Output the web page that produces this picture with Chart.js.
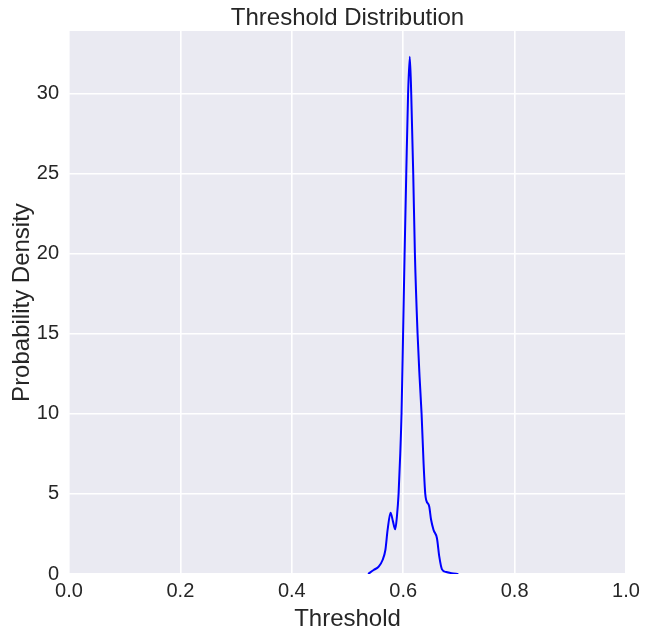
<!DOCTYPE html>
<html>
<head>
<meta charset="utf-8">
<script src="https://cdn.jsdelivr.net/npm/chart.js@4.4.1/dist/chart.umd.min.js"></script>
<style>
  html, body { margin: 0; padding: 0; background: #ffffff; }
  #wrap { width: 648px; height: 638px; }
</style>
</head>
<body>
<div id="wrap"><canvas id="kde" width="648" height="638"></canvas></div>
<script>
// --- data (threshold -> density) ---
const thresholds = [0.537, 0.547, 0.556, 0.563, 0.568, 0.572, 0.5773, 0.5815, 0.5857, 0.5887,
                    0.5917, 0.5947, 0.597, 0.5998, 0.6025, 0.6055, 0.6088, 0.6118, 0.6144, 0.618,
                    0.621, 0.6258, 0.6294, 0.633, 0.6366, 0.6396, 0.6414, 0.6468, 0.650, 0.6545,
                    0.6606, 0.6648, 0.6696, 0.6773, 0.687, 0.699];
const densities  = [0, 0.25, 0.46, 0.875, 1.5, 2.75, 3.83, 3.3, 2.79, 3.58,
                    5, 7.5, 10, 15, 20, 25, 30, 32.3, 30, 25,
                    20, 15, 12.3, 10, 6.9, 5, 4.6, 4.2, 3.4, 2.75,
                    2.23, 1.08, 0.29, 0.12, 0.05, 0];
const xTicks = [0, 0.2, 0.4, 0.6, 0.8, 1.0];
const yTicks = [0, 5, 10, 15, 20, 25, 30];
const chartTitle = 'Threshold Distribution';

const FONT = '"Liberation Sans", Arial, sans-serif';
const TEXT = '#262626';

// grey panel behind the plot area (seaborn darkgrid) + title centred on the plot
const panelBg = {
    id: 'panelBg',
    beforeDraw(chart) {
        const a = chart.chartArea;
        const c = chart.ctx;
        c.save();
        c.fillStyle = '#eaeaf2';
        c.fillRect(a.left, a.top, a.right - a.left, a.bottom - a.top);
        c.restore();
    },
    afterDraw(chart) {
        const a = chart.chartArea;
        const c = chart.ctx;
        c.save();
        c.fillStyle = TEXT;
        c.font = '24px ' + FONT;
        c.textAlign = 'center';
        c.textBaseline = 'alphabetic';
        c.fillText(chartTitle, (a.left + a.right) / 2, 25);
        c.restore();
    }
};

const points = thresholds.map((t, i) => ({ x: t, y: densities[i] }));

new Chart(document.getElementById('kde'), {
    type: 'line',
    data: {
        datasets: [{
            data: points,
            borderColor: '#0000ff',
            borderWidth: 2,
            pointRadius: 0,
            fill: false,
            cubicInterpolationMode: 'monotone'
        }]
    },
    options: {
        responsive: false,
        animation: false,
        devicePixelRatio: 1,
        layout: { padding: { left: 0, right: 22, top: 31, bottom: 0 } },
        plugins: {
            legend: { display: false },
            tooltip: { enabled: false },
            title: { display: false }
        },
        scales: {
            x: {
                type: 'linear',
                min: 0,
                max: 1,
                afterBuildTicks(scale) { scale.ticks = xTicks.map(v => ({ value: v })); },
                afterFit(scale) { scale.height = 64; },
                border: { display: false },
                grid: { color: '#ffffff', lineWidth: 1.6, drawTicks: false },
                ticks: {
                    color: TEXT,
                    padding: 5,
                    maxRotation: 0,
                    font: { family: FONT, size: 20 },
                    callback: v => v.toFixed(1)
                },
                title: {
                    display: true,
                    text: 'Threshold',
                    color: TEXT,
                    font: { family: FONT, size: 24 },
                    padding: { top: 0, bottom: 4 }
                }
            },
            y: {
                type: 'linear',
                min: 0,
                max: 33.9,
                afterBuildTicks(scale) { scale.ticks = yTicks.map(v => ({ value: v })); },
                afterFit(scale) { scale.width = 69; },
                border: { display: false },
                grid: { color: '#ffffff', lineWidth: 1.6, drawTicks: false },
                ticks: {
                    color: TEXT,
                    padding: 10,
                    font: { family: FONT, size: 20 }
                },
                title: {
                    display: true,
                    text: 'Probability Density',
                    color: TEXT,
                    font: { family: FONT, size: 24 },
                    padding: { top: 8, bottom: 0 }
                }
            }
        }
    },
    plugins: [panelBg]
});
</script>
</body>
</html>
